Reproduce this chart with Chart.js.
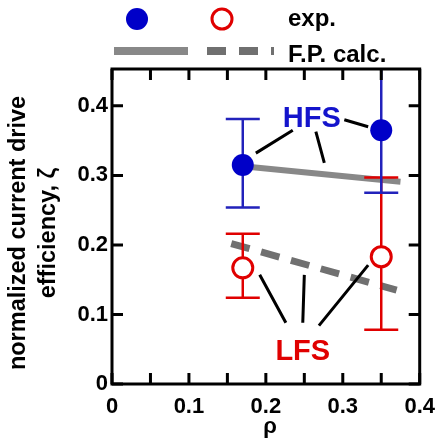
<!DOCTYPE html>
<html>
<head>
<meta charset="utf-8">
<script src="https://cdn.jsdelivr.net/npm/chart.js@4/dist/chart.umd.min.js"></script>
<style>
  html, body { margin: 0; padding: 0; background: #fff; }
</style>
</head>
<body>
<canvas id="chart" width="445" height="444"></canvas>
<script>
// measured values (rho, zeta)
var rho = [0.17, 0.35];
var hfsExp = [0.315, 0.365];
var hfsErrLow = [0.254, 0.275];
var hfsErrHigh = [0.381, 0.47];   // upper bar at 0.35 runs off the top
var lfsExp = [0.167, 0.183];
var lfsErrLow = [0.124, 0.078];
var lfsErrHigh = [0.216, 0.297];

// Fokker-Planck calculation
var fpHfsRho = [0.17, 0.375];
var fpHfs = [0.313, 0.291];
var fpLfsRho = [0.155, 0.37];
var fpLfs = [0.202, 0.135];

var xTicks = [0, 0.1, 0.2, 0.3, 0.4];
var xMinorTicks = [0, 0.05, 0.1, 0.15, 0.2, 0.25, 0.3, 0.35, 0.4];
var yTicks = [0, 0.1, 0.2, 0.3, 0.4];

// label leader lines, [x1, y1, x2, y2] in data units
var hfsLeaders = [
  [0.235, 0.365, 0.187, 0.332],
  [0.265, 0.363, 0.276, 0.318],
  [0.302, 0.380, 0.333, 0.370]
];
var lfsLeaders = [
  [0.192, 0.157, 0.226, 0.088],
  [0.250, 0.157, 0.248, 0.088],
  [0.333, 0.171, 0.269, 0.084]
];

var FONT = "'Liberation Sans', Arial, Helvetica, sans-serif";
var BLUE = '#0000c8';
var BLUE_BAR = '#2222bb';
var RED = '#e00000';
var GRAY = '#888888';
var GRAY_DARK = '#707070';

function pts(xs, ys) {
  return xs.map(function (x, i) { return {x: x, y: ys[i]}; });
}

function setTicks(values) {
  return function (scale) {
    scale.ticks = values.map(function (v) { return {value: v}; });
  };
}

var errorBars = {
  id: 'errorBars',
  beforeDatasetDraw: function (chart, args) {
    if (args.index !== 1) return;
    var ctx = chart.ctx, xs = chart.scales.x, ys = chart.scales.y, a = chart.chartArea;
    var groups = [
      {lo: lfsErrLow, hi: lfsErrHigh, color: RED},
      {lo: hfsErrLow, hi: hfsErrHigh, color: BLUE_BAR}
    ];
    ctx.save();
    ctx.beginPath();
    ctx.rect(a.left, a.top, a.right - a.left, a.bottom - a.top);
    ctx.clip();
    ctx.lineWidth = 2.5;
    groups.forEach(function (g) {
      ctx.strokeStyle = g.color;
      rho.forEach(function (r, i) {
        var px = xs.getPixelForValue(r);
        var top = ys.getPixelForValue(g.hi[i]);
        var bot = ys.getPixelForValue(g.lo[i]);
        ctx.beginPath();
        ctx.moveTo(px, top); ctx.lineTo(px, bot);
        ctx.moveTo(px - 17, top); ctx.lineTo(px + 17, top);
        ctx.moveTo(px - 17, bot); ctx.lineTo(px + 17, bot);
        ctx.stroke();
      });
    });
    ctx.restore();
  }
};

var decorations = {
  id: 'decorations',
  afterDatasetsDraw: function (chart) {
    var ctx = chart.ctx, xs = chart.scales.x, ys = chart.scales.y, a = chart.chartArea;
    ctx.save();

    // frame with inward ticks
    ctx.strokeStyle = '#000';
    ctx.lineWidth = 3;
    ctx.lineCap = 'square';
    ctx.strokeRect(a.left, a.top, a.right - a.left, a.bottom - a.top);
    ctx.lineCap = 'butt';
    ctx.beginPath();
    xMinorTicks.forEach(function (v) {
      var px = xs.getPixelForValue(v);
      ctx.moveTo(px, a.bottom); ctx.lineTo(px, a.bottom - 11);
      ctx.moveTo(px, a.top); ctx.lineTo(px, a.top + 11);
    });
    yTicks.forEach(function (v) {
      var py = ys.getPixelForValue(v);
      ctx.moveTo(a.left, py); ctx.lineTo(a.left + 11, py);
      ctx.moveTo(a.right, py); ctx.lineTo(a.right - 11, py);
    });
    ctx.stroke();

    // leader lines
    ctx.lineWidth = 3;
    ctx.strokeStyle = '#000';
    ctx.beginPath();
    hfsLeaders.concat(lfsLeaders).forEach(function (l) {
      ctx.moveTo(xs.getPixelForValue(l[0]), ys.getPixelForValue(l[1]));
      ctx.lineTo(xs.getPixelForValue(l[2]), ys.getPixelForValue(l[3]));
    });
    ctx.stroke();

    ctx.textAlign = 'center';
    ctx.textBaseline = 'alphabetic';
    ctx.font = 'bold 29px ' + FONT;
    ctx.fillStyle = '#1414cc';
    ctx.fillText('HFS', xs.getPixelForValue(0.2597), ys.getPixelForValue(0.370));
    ctx.fillStyle = RED;
    ctx.fillText('LFS', xs.getPixelForValue(0.248), ys.getPixelForValue(0.0345));

    // axis titles
    ctx.fillStyle = '#000';
    ctx.font = 'bold 22px ' + FONT;
    ctx.fillText('\u03c1', 270, 433);
    ctx.save();
    ctx.translate(25, 233);
    ctx.rotate(-Math.PI / 2);
    ctx.font = 'bold 23.5px ' + FONT;
    ctx.fillText('normalized current drive', 0, 0);
    ctx.fillText('efficiency, \u03b6', 0, 30);
    ctx.restore();

    // legend
    ctx.fillStyle = BLUE;
    ctx.beginPath();
    ctx.arc(137, 19, 11, 0, Math.PI * 2);
    ctx.fill();
    ctx.strokeStyle = RED;
    ctx.lineWidth = 3;
    ctx.beginPath();
    ctx.arc(222, 19, 10, 0, Math.PI * 2);
    ctx.stroke();

    ctx.lineWidth = 8;
    ctx.strokeStyle = GRAY;
    ctx.beginPath();
    ctx.moveTo(114, 51); ctx.lineTo(188, 51);
    ctx.stroke();
    ctx.strokeStyle = GRAY_DARK;
    ctx.setLineDash([19, 13]);
    ctx.beginPath();
    ctx.moveTo(207, 51); ctx.lineTo(274, 51);
    ctx.stroke();
    ctx.setLineDash([]);

    ctx.fillStyle = '#000';
    ctx.textAlign = 'left';
    ctx.font = 'bold 24px ' + FONT;
    ctx.fillText('exp.', 288, 26);
    ctx.fillText('F.P. calc.', 288, 62);

    ctx.restore();
  }
};

new Chart(document.getElementById('chart'), {
  type: 'scatter',
  data: {
    datasets: [
      {
        label: 'HFS exp.',
        data: pts(rho, hfsExp),
        pointRadius: 11,
        pointBackgroundColor: BLUE,
        pointBorderColor: BLUE,
        pointBorderWidth: 0
      },
      {
        label: 'LFS exp.',
        data: pts(rho, lfsExp),
        pointRadius: 10,
        pointBackgroundColor: '#fff',
        pointBorderColor: RED,
        pointBorderWidth: 3
      },
      {
        label: 'F.P. calc. HFS',
        data: pts(fpHfsRho, fpHfs),
        showLine: true,
        pointRadius: 0,
        borderColor: GRAY,
        borderWidth: 6,
        borderCapStyle: 'butt'
      },
      {
        label: 'F.P. calc. LFS',
        data: pts(fpLfsRho, fpLfs),
        showLine: true,
        pointRadius: 0,
        borderColor: GRAY_DARK,
        borderWidth: 7,
        borderDash: [19, 12],
        borderCapStyle: 'butt'
      }
    ]
  },
  options: {
    responsive: false,
    animation: false,
    devicePixelRatio: 1,
    layout: {padding: {top: 69, right: 18, left: 0, bottom: 0}},
    plugins: {legend: {display: false}, tooltip: {enabled: false}},
    scales: {
      x: {
        type: 'linear',
        min: 0,
        max: 0.4,
        afterBuildTicks: setTicks(xTicks),
        afterFit: function (s) { s.height = 60; },
        grid: {display: false, drawTicks: false},
        border: {display: false},
        ticks: {
          padding: 10,
          color: '#000',
          font: {family: FONT, size: 22, weight: 'bold'},
          maxRotation: 0
        }
      },
      y: {
        type: 'linear',
        min: 0,
        max: 0.453,
        afterBuildTicks: setTicks(yTicks),
        afterFit: function (s) { s.width = 112; },
        grid: {display: false, drawTicks: false},
        border: {display: false},
        ticks: {
          padding: 4,
          color: '#000',
          font: {family: FONT, size: 22, weight: 'bold'}
        }
      }
    }
  },
  plugins: [errorBars, decorations]
});
</script>
</body>
</html>
